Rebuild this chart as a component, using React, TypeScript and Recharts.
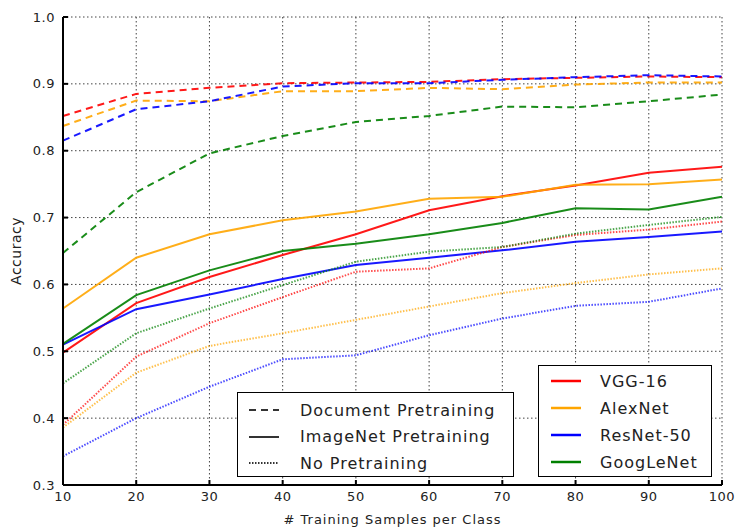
import { CartesianGrid, Line, LineChart, XAxis, YAxis } from "recharts"

const samples = [10, 20, 30, 40, 50, 60, 70, 80, 90, 100]
const yTicks = [0.3, 0.4, 0.5, 0.6, 0.7, 0.8, 0.9, 1.0]

// Document pretraining (dashed)
const vggDoc = [0.852, 0.885, 0.894, 0.901, 0.902, 0.903, 0.907, 0.909, 0.911, 0.910]
const alexDoc = [0.837, 0.875, 0.874, 0.889, 0.889, 0.894, 0.892, 0.899, 0.902, 0.902]
const resDoc = [0.815, 0.862, 0.874, 0.896, 0.901, 0.901, 0.906, 0.910, 0.913, 0.911]
const googDoc = [0.647, 0.738, 0.796, 0.822, 0.843, 0.852, 0.866, 0.865, 0.874, 0.884]

// ImageNet pretraining (solid)
const vggNet = [0.498, 0.572, 0.611, 0.644, 0.675, 0.711, 0.732, 0.748, 0.767, 0.776]
const alexNet = [0.564, 0.640, 0.675, 0.696, 0.709, 0.728, 0.731, 0.749, 0.750, 0.757]
const resNet = [0.510, 0.563, 0.585, 0.608, 0.629, 0.640, 0.651, 0.664, 0.671, 0.679]
const googNet = [0.511, 0.584, 0.621, 0.650, 0.661, 0.675, 0.692, 0.714, 0.712, 0.731]

// No pretraining (dotted)
const vggNone = [0.390, 0.492, 0.542, 0.581, 0.619, 0.624, 0.656, 0.674, 0.682, 0.694]
const alexNone = [0.386, 0.468, 0.508, 0.527, 0.547, 0.567, 0.587, 0.602, 0.615, 0.624]
const resNone = [0.343, 0.400, 0.447, 0.488, 0.494, 0.524, 0.549, 0.568, 0.574, 0.594]
const googNone = [0.452, 0.527, 0.564, 0.599, 0.634, 0.649, 0.656, 0.676, 0.689, 0.701]

const models = [
  { name: "VGG-16", color: "#ff0000", doc: vggDoc, net: vggNet, none: vggNone },
  { name: "AlexNet", color: "#ffa500", doc: alexDoc, net: alexNet, none: alexNone },
  { name: "ResNet-50", color: "#0000ff", doc: resDoc, net: resNet, none: resNone },
  { name: "GoogLeNet", color: "#008000", doc: googDoc, net: googNet, none: googNone },
]

const styles = [
  { key: "doc", label: "Document Pretraining", dash: "7 5" },
  { key: "net", label: "ImageNet Pretraining", dash: undefined },
  { key: "none", label: "No Pretraining", dash: "1.5 1.5" },
]

const data = samples.map((s, i) => {
  const row: any = { x: s }
  models.forEach((m, j) => {
    row["doc" + j] = m.doc[i]
    row["net" + j] = m.net[i]
    row["none" + j] = m.none[i]
  })
  return row
})

const font = "'DejaVu Sans', sans-serif"
const tickStyle = { fontSize: 13, fill: "#222", fontFamily: font, letterSpacing: 0.5 }

const App = () => {
  return (
    <div style={{ position: "absolute", left: 0, top: 0, width: 736, height: 528, background: "white" }}>
      <LineChart width={736} height={528} data={data} margin={{ top: 17, right: 14, bottom: 0, left: 0 }}>
        <CartesianGrid stroke="#444" strokeDasharray="1.5 2.5" strokeWidth={1} />
        <XAxis
          dataKey="x"
          type="number"
          domain={[10, 100]}
          ticks={samples}
          height={43}
          stroke="#000"
          strokeWidth={2}
          tickSize={-5}
          tickMargin={12}
          tick={tickStyle}
          label={{ value: "# Training Samples per Class", position: "insideBottom", offset: 4, style: { ...tickStyle, letterSpacing: 1 } }}
        />
        <XAxis
          xAxisId="top"
          dataKey="x"
          type="number"
          orientation="top"
          domain={[10, 100]}
          ticks={samples}
          height={0}
          mirror
          tick={false}
          tickSize={5}
          stroke="#000"
          strokeWidth={2}
        />
        <YAxis
          type="number"
          domain={[0.3, 1.0]}
          ticks={yTicks}
          width={63}
          stroke="#000"
          strokeWidth={2}
          tickSize={-5}
          tickMargin={13}
          tick={tickStyle}
          tickFormatter={(v: number) => v.toFixed(1)}
          label={{ value: "Accuracy", angle: -90, position: "insideLeft", offset: 16, style: { ...tickStyle, fontSize: 14, textAnchor: "middle" } }}
        />
        <YAxis
          yAxisId="right"
          type="number"
          orientation="right"
          domain={[0.3, 1.0]}
          ticks={yTicks}
          width={0}
          mirror
          tick={false}
          tickSize={5}
          stroke="#000"
          strokeWidth={2}
        />
        {styles.map((s) =>
          models.map((m, j) => (
            <Line
              key={s.key + j}
              dataKey={s.key + j}
              stroke={m.color}
              strokeWidth={2}
              strokeOpacity={s.key === "none" ? 0.7 : 0.9}
              strokeDasharray={s.dash}
              dot={false}
              isAnimationActive={false}
            />
          ))
        )}
      </LineChart>

      <div
        style={{
          position: "absolute", left: 237, top: 392, width: 275, height: 83,
          border: "1.5px solid #000", background: "white", fontFamily: font,
          fontSize: 16, letterSpacing: 1, color: "#222",
        }}
      >
        {styles.map((s, i) => (
          <div key={s.key} style={{ position: "absolute", left: 10, top: 4 + i * 26.5, height: 26, display: "flex", alignItems: "center" }}>
            <svg width={32} height={10}>
              <line x1={1} y1={5} x2={31} y2={5} stroke="#333" strokeWidth={2} strokeDasharray={s.dash} />
            </svg>
            <span style={{ marginLeft: 20 }}>{s.label}</span>
          </div>
        ))}
      </div>

      <div
        style={{
          position: "absolute", left: 538, top: 365, width: 172, height: 110,
          border: "1.5px solid #000", background: "white", fontFamily: font,
          fontSize: 16, letterSpacing: 1, color: "#222",
        }}
      >
        {models.map((m, i) => (
          <div key={m.name} style={{ position: "absolute", left: 11, top: 2 + i * 27, height: 26, display: "flex", alignItems: "center" }}>
            <svg width={32} height={10}>
              <line x1={1} y1={5} x2={31} y2={5} stroke={m.color} strokeWidth={2.5} />
            </svg>
            <span style={{ marginLeft: 18 }}>{m.name}</span>
          </div>
        ))}
      </div>
    </div>
  )
}

export default App
